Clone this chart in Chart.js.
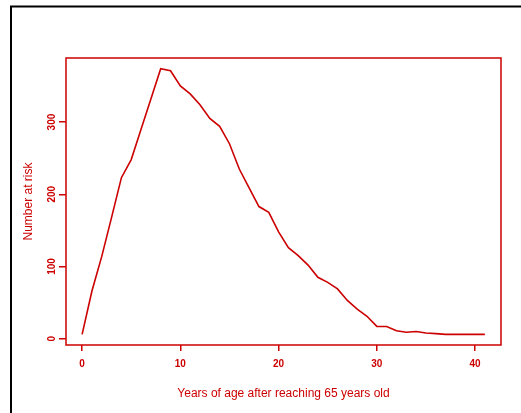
<!DOCTYPE html>
<html>
<head>
<meta charset="utf-8">
<script src="https://cdn.jsdelivr.net/npm/chart.js@4"></script>
<style>
  html, body { margin: 0; padding: 0; background: #fff; }
  canvas { display: block; }
</style>
</head>
<body>
<canvas id="c" width="521" height="413"></canvas>
<script>
// years after 65 and number at risk
const years = [0,1,2,3,4,5,6,7,8,9,10,11,12,13,14,15,16,17,18,19,20,
               21,22,23,24,25,26,27,28,29,30,31,32,33,34,35,36,37,38,39,40,41];
const atRisk = [6,66,114,168,223,248,290,332,374,371,350,339,324,305,294,270,235,209,183,175,148,
                126,115,102,85,78,69,53,41,31,17,17,11,9,10,8,7,6,6,6,6,6];
const xTicks = [0, 10, 20, 30, 40];
const yTicks = [0, 100, 200, 300];

const RED = "#cc0000";
const FONT = "'Liberation Sans', Arial, sans-serif";

// white bg, black outer frame, red box, rotated y labels
const framePlugin = {
  id: "frame",
  beforeDraw(chart) {
    const ctx = chart.ctx;
    ctx.save();
    ctx.fillStyle = "#fff";
    ctx.fillRect(0, 0, chart.width, chart.height);
    ctx.strokeStyle = "#000";
    ctx.lineWidth = 2;
    ctx.beginPath();
    ctx.moveTo(11, chart.height + 2);
    ctx.lineTo(11, 6.5);
    ctx.lineTo(chart.width + 2, 6.5);
    ctx.stroke();
    ctx.restore();
  },
  afterDraw(chart) {
    const ctx = chart.ctx;
    const a = chart.chartArea;
    ctx.save();
    ctx.strokeStyle = RED;
    ctx.lineWidth = 1.5;
    ctx.strokeRect(a.left, a.top, a.right - a.left, a.bottom - a.top);
    // y tick labels, vertical like R's default
    const ys = chart.scales.y;
    ctx.fillStyle = RED;
    ctx.font = "bold 10px " + FONT;
    ctx.textAlign = "center";
    ctx.textBaseline = "middle";
    yTicks.forEach(v => {
      const py = ys.getPixelForValue(v);
      ctx.save();
      ctx.translate(52, py);
      ctx.rotate(-Math.PI / 2);
      ctx.fillText(String(v), 0, 0);
      ctx.restore();
    });
    ctx.restore();
  }
};

new Chart(document.getElementById("c"), {
  type: "line",
  data: {
    datasets: [{
      data: years.map((x, i) => ({ x: x, y: atRisk[i] })),
      borderColor: RED,
      borderWidth: 1.6,
      pointRadius: 0,
      tension: 0,
      fill: false
    }]
  },
  options: {
    responsive: false,
    animation: false,
    events: [],
    layout: { padding: { top: 58, right: 20, left: 0, bottom: 0 } },
    plugins: { legend: { display: false }, tooltip: { enabled: false } },
    scales: {
      x: {
        type: "linear",
        min: -1.64, max: 42.64,
        afterBuildTicks: s => { s.ticks = xTicks.map(v => ({ value: v })); },
        afterFit: s => { s.height = 68; },
        border: { display: false },
        grid: { drawOnChartArea: false, drawTicks: true, tickLength: 6, color: RED, lineWidth: 1.5 },
        ticks: {
          color: RED, padding: 7, maxRotation: 0,
          font: { family: FONT, size: 10, weight: "bold" }
        },
        title: {
          display: true, text: "Years of age after reaching 65 years old", color: RED,
          font: { family: FONT, size: 12 },
          padding: { top: 0, bottom: 12 }
        }
      },
      y: {
        type: "linear",
        min: -8.72, max: 388.72,
        afterBuildTicks: s => { s.ticks = yTicks.map(v => ({ value: v })); },
        afterFit: s => { s.width = 66; },
        border: { display: false },
        grid: { drawOnChartArea: false, drawTicks: true, tickLength: 7, color: RED, lineWidth: 1.5 },
        ticks: { display: false },
        title: {
          display: true, text: "Number at risk", color: RED,
          font: { family: FONT, size: 12 },
          padding: { top: 21, bottom: 0 }
        }
      }
    }
  },
  plugins: [framePlugin]
});
</script>
</body>
</html>
